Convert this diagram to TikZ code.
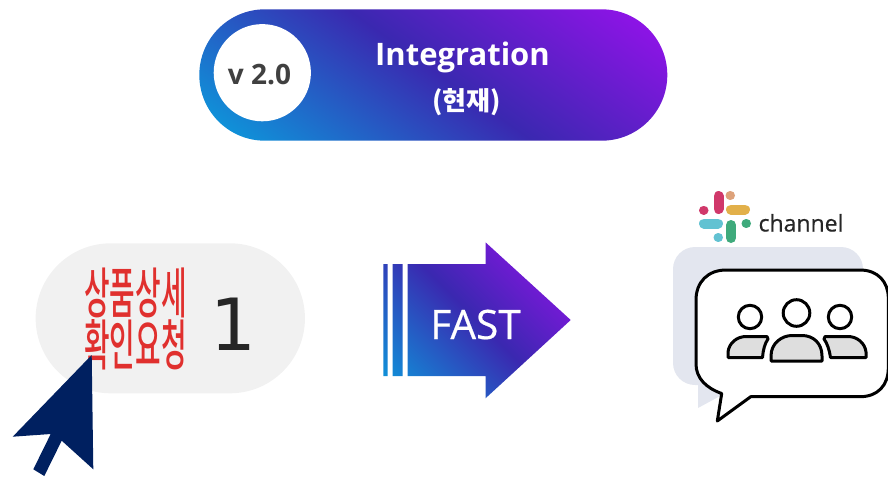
\documentclass[tikz,border=0pt]{standalone}
\usepackage{fontspec}
\setmainfont{Open Sans}
\newfontfamily\kr{Noto Sans CJK KR Medium}
\newfontfamily\krb{Noto Sans CJK KR}
\newfontfamily\djv{DejaVu Sans}
\newfontfamily\heavier[FakeBold=0.5]{Open Sans}
\definecolor{gA}{HTML}{1090D8}
\definecolor{gB}{HTML}{3A28B0}
\definecolor{gC}{HTML}{9013E8}
\definecolor{navy}{HTML}{002060}
\definecolor{pillgray}{HTML}{F1F1F1}
\definecolor{redtext}{HTML}{E0302E}
\definecolor{shadowblue}{HTML}{E3E6EF}
\definecolor{bodygray}{HTML}{DEDEDE}
\definecolor{slackred}{HTML}{D0386A}
\definecolor{slackyellow}{HTML}{E2B04A}
\definecolor{slackorange}{HTML}{DDA27A}
\definecolor{slackteal}{HTML}{62C2D2}
\definecolor{slackgreen}{HTML}{3FAA7C}
\pgfdeclarehorizontalshading{gradpill}{100bp}{color(0bp)=(gA); color(33.5bp)=(gA); color(50bp)=(gB); color(66.5bp)=(gC); color(100bp)=(gC)}
\pgfdeclarehorizontalshading{gradarrow}{100bp}{color(0bp)=(gA); color(39.5bp)=(gA); color(50bp)=(gB); color(60.5bp)=(gC); color(100bp)=(gC)}
\tikzset{
  shadebox/.style={inner sep=0pt, outer sep=0pt, scale=10},
  whitetext/.style={text=white, anchor=base, inner sep=0pt},
  slackbar/.style={line width=10pt, line cap=round},
  slackdot/.style={line width=9pt, line cap=round},
  outline/.style={draw=black, line width=3pt, line join=round},
  person/.style={outline, fill=bodygray}
}
\begin{document}
\begin{tikzpicture}[x=1pt,y=-1pt]
\useasboundingbox (0,0) rectangle (888,477);
% top pill
\begin{scope}
  \clip[rounded corners=65.7pt] (199.3,9.3) rectangle (667.3,140.7);
  \node[shadebox, rotate=54.6] (pillshade) at (440,75) {\pgfuseshading{gradpill}};
\end{scope}
\node[circle, fill=white, minimum size=97.2pt, inner sep=0pt] (vcircle) at (262.3,72.7) {};
\node[anchor=base, inner sep=0pt, text=black!75, font=\fontsize{28}{28}\selectfont\bfseries] (version) at (259.5,84) {v 2.0};
\node[whitetext, font=\fontsize{31}{31}\selectfont\bfseries] (integ) at (462.5,65) {Integration};
\node[whitetext, font=\krb\fontsize{26}{26}\selectfont\bfseries] (now) at (466.7,110) {(현재)};
% left pill
\node[rounded corners=75pt, fill=pillgray, minimum width=269.3pt, minimum height=150pt, inner sep=0pt] (request) at (170.3,318.3) {};
\node[inner sep=0pt, text=redtext, xscale=1.09, yscale=2.15, font=\kr\fontsize{25.5}{25.5}\selectfont] (l1) at (135.5,293) {상품상세};
\node[inner sep=0pt, text=redtext, xscale=1.09, yscale=2.15, font=\kr\fontsize{25.5}{25.5}\selectfont] (l2) at (135.5,345) {확인요청};
\node[anchor=base, inner sep=0pt, text=black!85, font=\djv\fontsize{72}{72}\selectfont] (count) at (233.5,350) {1};
% cursor
\fill[navy] (91.7,355) -- (93.3,469.3) -- (61.7,440.7) -- (44.3,476) -- (33.3,469.3) -- (50.7,434) -- (12.7,436.7) -- cycle;
% arrow
\begin{scope}
  \clip (383.3,264) rectangle (387.7,376)
        (392.7,264) rectangle (402.7,376)
        (407.7,264) -- (485.5,264) -- (485.5,242.3) -- (570.7,320) -- (485.5,398.3) -- (485.5,376) -- (407.7,376) -- cycle;
  \node[shadebox, rotate=45] (arrowshade) at (477,320) {\pgfuseshading{gradarrow}};
\end{scope}
\node[whitetext, font=\heavier\fontsize{40.5}{40.5}\selectfont] (fast) at (475.5,339) {FAST};
% slack logo
\draw[slackbar, slackred] (718.5,196) -- (718.5,209);
\draw[slackdot, slackred] (703.5,210) -- (704,210);
\draw[slackdot, slackorange] (730,195.5) -- (730.5,195.5);
\draw[slackbar, slackyellow] (731,209.5) -- (745,209.5);
\draw[slackbar, slackteal] (704,223.5) -- (718,223.5);
\draw[slackdot, slackteal] (718,237.5) -- (718.5,237.5);
\draw[slackbar, slackgreen] (731,225) -- (731,238);
\draw[slackdot, slackgreen] (746,223.5) -- (746.5,223.5);
\node[anchor=base, inner sep=0pt, text=black!85, font=\heavier\fontsize{23}{23}\selectfont] (channel) at (801,231.5) {channel};
% speech bubble
\fill[shadowblue, rounded corners=22pt] (673,247) rectangle (863,385);
\fill[shadowblue] (698,375) -- (698,408) -- (722,395) -- cycle;
\draw[outline, fill=white] (750.7,396.7) -- (717.3,421) -- (721.7,393.5)
  .. controls (706,388) and (696,378) .. (696,364)
  -- (696,300)
  .. controls (696,282) and (708,270) .. (726,270)
  -- (860,270)
  .. controls (878,270) and (888.3,282) .. (888.3,298)
  -- (888.3,368)
  .. controls (888.3,385) and (878,396.7) .. (860,396.7)
  -- cycle;
% people
\draw[outline] (796.5,313) circle[radius=13.3pt];
\draw[outline] (750,317) circle[radius=11.7pt];
\draw[outline] (840,317) circle[radius=11.7pt];
\draw[person] (771,361) -- (771,356) .. controls (771,343) and (782,335.5) .. (792,335.5) -- (802,335.5)
  .. controls (813,335.5) and (822,343) .. (822,356) -- (822,361) -- cycle;
\draw[person] (728,357.5) -- (728,352) .. controls (729,343) and (737,336.5) .. (746,336.5) -- (767,336.5)
  -- (768,339) .. controls (765,343) and (763,350) .. (762.5,357.5) -- cycle;
\draw[person] (866,357.5) -- (866,352) .. controls (865,343) and (857,336.5) .. (848,336.5) -- (825,336.5)
  -- (824,339) .. controls (827,343) and (829.5,350) .. (830.5,357.5) -- cycle;
\end{tikzpicture}
\end{document}
